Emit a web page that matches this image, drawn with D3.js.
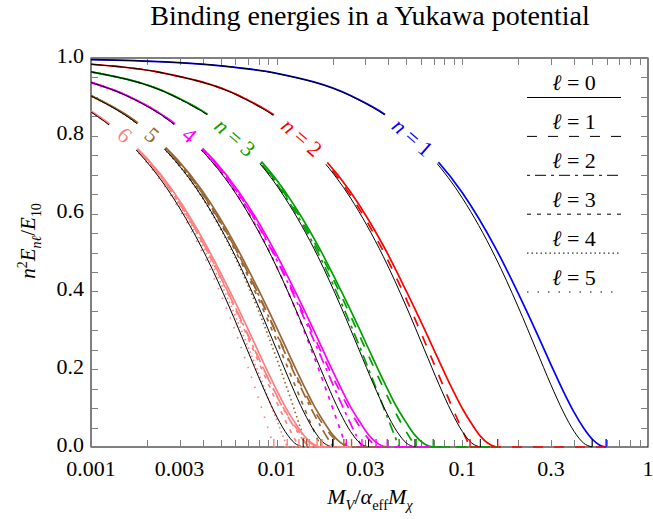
<!DOCTYPE html>
<html>
<head>
<meta charset="utf-8">
<script src="https://cdn.jsdelivr.net/npm/d3@7"></script>
<style>
  body { margin: 0; background: #fff; }
  svg { display: block; }
  svg text { font-family: 'Liberation Serif', 'DejaVu Serif', serif; }
</style>
</head>
<body>
<script>
// Binding energies n^2 E_{nl}/E_{10} against M_V/(alpha_eff M_chi)

// principal quantum numbers and the colour of each family
const principal = [1, 2, 3, 4, 5, 6];
const familyColors = ["#0000ff", "#ff0000", "#00a000", "#ff00ff", "#996633", "#ff8080"];

// sampling points along M_V/(alpha_eff M_chi), one list per n
const gridN1 = [0.001, 0.0025, 0.005, 0.01, 0.025, 0.05, 0.1, 0.15, 0.2, 0.25, 0.3, 0.35, 0.4, 0.45, 0.5, 0.55];
const gridN2 = [0.001, 0.0025, 0.00625, 0.0125, 0.025, 0.0375, 0.05, 0.0625, 0.075, 0.0875, 0.1, 0.1125, 0.125, 0.1375, 0.15];
const gridN3 = [0.001, 0.002778, 0.005556, 0.01111, 0.01667, 0.02222, 0.02778, 0.03333, 0.03889, 0.04444, 0.05, 0.05556, 0.06111, 0.06667];
const gridN4 = [0.001, 0.0015625, 0.003125, 0.00625, 0.009375, 0.0125, 0.015625, 0.01875, 0.021875, 0.025, 0.028125, 0.03125, 0.034375, 0.0375];
const gridN5 = [0.001, 0.002, 0.004, 0.006, 0.008, 0.01, 0.012, 0.014, 0.016, 0.018, 0.02, 0.022, 0.024];
const gridN6 = [0.001, 0.001389, 0.002778, 0.004167, 0.005556, 0.006944, 0.008333, 0.009722, 0.01111, 0.0125, 0.01389, 0.01528, 0.01667];

// Yukawa levels, one list per l (l = 0 .. n-1), sampled on the grid of that n
const levelsN1 = [
  [0.996, 0.990, 0.980, 0.9606, 0.9036, 0.8141, 0.6536, 0.514, 0.395, 0.296, 0.212, 0.143, 0.089, 0.049, 0.0206, 0.0045]
];
const levelsN2 = [
  [0.984, 0.9606, 0.9036, 0.8146, 0.6557, 0.518, 0.400, 0.303, 0.221, 0.153, 0.099, 0.059, 0.028, 0.0095, 0.0012],
  [0.984, 0.9605, 0.9031, 0.812, 0.647, 0.5033, 0.379, 0.2725, 0.1822, 0.1061, 0.0428]
];
const levelsN3 = [
  [0.9645, 0.9036, 0.8148, 0.6562, 0.5185, 0.4017, 0.3055, 0.2235, 0.156, 0.1015, 0.062, 0.0305, 0.011, 0.0017],
  [0.9644, 0.9032, 0.8128, 0.6499, 0.5095, 0.3898, 0.289, 0.2052, 0.1367, 0.0816, 0.0381, 0.0043],
  [0.9644, 0.9029, 0.8116, 0.6454, 0.4994, 0.3721, 0.2617, 0.1664, 0.0844, 0.0141]
];
const levelsN4 = [
  [0.9375, 0.9036, 0.8149, 0.6565, 0.519, 0.4025, 0.3065, 0.2245, 0.1575, 0.1032, 0.0635, 0.0315, 0.0118, 0.0019],
  [0.9373, 0.9033, 0.8129, 0.6502, 0.5104, 0.3915, 0.2919, 0.2098, 0.1434, 0.0909, 0.0507, 0.0208],
  [0.9373, 0.9032, 0.8125, 0.6488, 0.5069, 0.3851, 0.2813, 0.1938, 0.1206, 0.0599, 0.0098],
  [0.9371, 0.9027, 0.8107, 0.6418, 0.4916, 0.3587, 0.2414, 0.1382, 0.0475]
];
const levelsN5 = [
  [0.9036, 0.8149, 0.6566, 0.519, 0.403, 0.307, 0.225, 0.158, 0.1037, 0.0638, 0.0318, 0.012, 0.002],
  [0.9032, 0.8128, 0.6502, 0.5103, 0.3915, 0.2921, 0.2104, 0.1446, 0.093, 0.054, 0.0258, 0.0067],
  [0.9032, 0.8128, 0.6501, 0.5098, 0.3903, 0.2896, 0.2058, 0.1371, 0.0817, 0.0376, 0.003],
  [0.9031, 0.8121, 0.6474, 0.5038, 0.3794, 0.2725, 0.1812, 0.1034, 0.0375],
  [0.9025, 0.81, 0.6391, 0.486, 0.3491, 0.2272, 0.1187, 0.0224]
];
const levelsN6 = [
  [0.864, 0.8149, 0.6566, 0.519, 0.403, 0.307, 0.225, 0.158, 0.104, 0.064, 0.032, 0.012, 0.002],
  [0.8627, 0.8128, 0.65, 0.51, 0.391, 0.2915, 0.2098, 0.1442, 0.093, 0.0545, 0.0272, 0.0093],
  [0.8627, 0.8129, 0.6503, 0.5106, 0.3918, 0.2921, 0.2099, 0.1432, 0.0903, 0.0493, 0.0185],
  [0.8626, 0.8127, 0.6494, 0.5084, 0.3876, 0.2851, 0.1991, 0.1276, 0.0688, 0.0207],
  [0.8621, 0.8117, 0.6456, 0.5, 0.3728, 0.2625, 0.167, 0.0847, 0.0137],
  [0.8608, 0.8092, 0.6361, 0.4796, 0.3383, 0.2113, 0.0973]
];

// where each level stops being bound (E = 0)
const unboundN = [
  [0.595],
  [0.155, 0.110],
  [0.0697, 0.0564, 0.0457],
  [0.0394, 0.0343, 0.0288, 0.0237],
  [0.0253, 0.0230, 0.0202, 0.0173, 0.0145],
  [0.01756, 0.0165, 0.0150, 0.01319, 0.0114, 0.00965]
];

// Hulthen approximation, one list per n, on the same grids
const hulthenN = [
  [0.996, 0.990, 0.9801, 0.9604, 0.9025, 0.81, 0.64, 0.49, 0.36, 0.25, 0.16, 0.09, 0.04, 0.01],
  [0.984, 0.9604, 0.9025, 0.81, 0.64, 0.49, 0.36, 0.25, 0.16, 0.09, 0.04, 0.01],
  [0.9643, 0.9025, 0.81, 0.64, 0.49, 0.36, 0.25, 0.16, 0.09, 0.04, 0.01],
  [0.937, 0.9025, 0.81, 0.64, 0.49, 0.36, 0.25, 0.16, 0.09, 0.04, 0.01],
  [0.9025, 0.81, 0.64, 0.49, 0.36, 0.25, 0.16, 0.09, 0.04, 0.01],
  [0.8612, 0.81, 0.64, 0.49, 0.36, 0.25, 0.16, 0.09, 0.04, 0.01]
];
const hulthenUnbound = [0.5, 0.125, 0.05556, 0.03125, 0.02, 0.01389];

// in-plot family labels and where they sit on their curves
const familyLabels = ["n = 1", "n = 2", "n = 3", "4", "5", "6"];
const labelAtX = [0.0542, 0.0137, 0.0060, 0.0034, 0.00213, 0.00152];
const labelAtE = [0.797, 0.797, 0.797, 0.802, 0.802, 0.802];

// axis tick labels
const xTickLabels = [0.001, 0.003, 0.01, 0.03, 0.1, 0.3, 1];
const yTickLabels = [0, 0.2, 0.4, 0.6, 0.8, 1.0];
const legendLabels = ["0", "1", "2", "3", "4", "5"];

const grids = [gridN1, gridN2, gridN3, gridN4, gridN5, gridN6];
const levels = [levelsN1, levelsN2, levelsN3, levelsN4, levelsN5, levelsN6];

// ---- layout and styles ----
const W = 653, H = 519;
const plot = { left: 91, right: 648, top: 58, bottom: 447 };
const dashFor = ["none", "10,11", "3,5,11,5", "4,6", "1.5,3", "1.5,9"];
const serif = "Liberation Serif, DejaVu Serif, serif";

const svg = d3.select("body").append("svg")
  .attr("width", W).attr("height", H)
  .attr("font-family", serif);

const x = d3.scaleLog().domain([0.001, 1]).range([plot.left, plot.right]);
const y = d3.scaleLinear().domain([0, 1]).range([plot.bottom, plot.top]);

function txt(parent) {
  return parent.append("text").attr("font-family", serif).style("font-family", serif);
}

// rich text helper: italic, subscripts and superscripts
function rich(sel, parts, size) {
  let shift = 0;
  parts.forEach(p => {
    const target = p.sub ? size * 0.28 : (p.sup ? -size * 0.4 : 0);
    const ts = sel.append("tspan").attr("dy", target - shift).text(p.t);
    shift = target;
    if (p.i) ts.attr("font-style", "italic");
    if (p.sub || p.sup) ts.attr("font-size", size * 0.66);
  });
}

// title
txt(svg)
  .attr("x", 370).attr("y", 25)
  .attr("text-anchor", "middle")
  .attr("font-size", 28)
  .text("Binding energies in a Yukawa potential");

// frame
svg.append("rect")
  .attr("x", plot.left).attr("y", plot.top)
  .attr("width", plot.right - plot.left).attr("height", plot.bottom - plot.top)
  .attr("fill", "none").attr("stroke", "#000").attr("stroke-width", 1);

// ticks on all four sides, pointing inwards
const tickLen = 7;
const ticks = svg.append("g").attr("stroke", "#808080").attr("stroke-width", 1);
x.ticks().forEach(v => {
  const px = Math.round(x(v)) + 0.5;
  ticks.append("line").attr("x1", px).attr("x2", px).attr("y1", plot.bottom).attr("y2", plot.bottom - tickLen);
  ticks.append("line").attr("x1", px).attr("x2", px).attr("y1", plot.top).attr("y2", plot.top + tickLen);
});
y.ticks(20).forEach(v => {
  const py = Math.round(y(v)) + 0.5;
  ticks.append("line").attr("x1", plot.left).attr("x2", plot.left + tickLen).attr("y1", py).attr("y2", py);
  ticks.append("line").attr("x1", plot.right).attr("x2", plot.right - tickLen).attr("y1", py).attr("y2", py);
});

// tick labels
const fmtX = d => (d >= 1 ? "1" : String(d));
const xLab = svg.append("g");
xTickLabels.forEach(d => {
  txt(xLab).attr("x", x(d)).attr("y", 476)
    .attr("text-anchor", "middle").attr("font-size", 22)
    .text(fmtX(d));
});
const yLab = svg.append("g");
yTickLabels.forEach(d => {
  txt(yLab).attr("x", plot.left - 7).attr("y", y(d) + 4.5)
    .attr("text-anchor", "end").attr("font-size", 22)
    .text(d3.format(".1f")(d));
});

// axis titles
const xt = txt(svg).attr("x", 370).attr("y", 504)
  .attr("text-anchor", "middle").attr("font-size", 22);
rich(xt, [
  { t: "M", i: true }, { t: "V", i: true, sub: true }, { t: "/" },
  { t: "α", i: true }, { t: "eff", sub: true },
  { t: "M", i: true }, { t: "χ", i: true, sub: true }
], 22);

const yt = txt(svg)
  .attr("transform", "translate(35,241) rotate(-90)")
  .attr("text-anchor", "middle").attr("font-size", 21);
rich(yt, [
  { t: "n", i: true }, { t: "2", sup: true }, { t: "E", i: true },
  { t: "nℓ", i: true, sub: true }, { t: "/" }, { t: "E", i: true }, { t: "10", sub: true }
], 21);

// family labels placed on the curves, rotated along them
const labelAngle = 41;
const labelG = svg.append("g");
const labelBoxes = [];
familyLabels.forEach((lab, k) => {
  const cx = x(labelAtX[k]), cy = y(labelAtE[k]);
  const t = txt(labelG)
    .attr("transform", `translate(${cx},${cy}) rotate(${labelAngle})`)
    .attr("text-anchor", "middle")
    .attr("dominant-baseline", "central")
    .attr("font-size", 22)
    .attr("fill", familyColors[k]);
  if (lab.startsWith("n")) {
    t.append("tspan").attr("font-style", "italic").text("n");
    t.append("tspan").text(lab.slice(1));
  } else {
    t.text(lab);
  }
  labelBoxes.push({ cx, cy, w: t.node().getComputedTextLength() });
});

// gaps in the curves behind each label
const defs = svg.append("defs");
const mask = defs.append("mask").attr("id", "labelGaps")
  .attr("maskUnits", "userSpaceOnUse")
  .attr("x", 0).attr("y", 0).attr("width", W).attr("height", H);
mask.append("rect").attr("x", 0).attr("y", 0).attr("width", W).attr("height", H).attr("fill", "#fff");
labelBoxes.forEach(b => {
  const w = b.w + 26, h = 20;
  mask.append("rect")
    .attr("transform", `translate(${b.cx},${b.cy}) rotate(${labelAngle})`)
    .attr("x", -w / 2).attr("y", -h / 2).attr("width", w).attr("height", h)
    .attr("fill", "#000");
});

const line = d3.line()
  .x(d => x(d[0])).y(d => y(d[1]))
  .curve(d3.curveMonotoneX);

const curves = svg.append("g").attr("mask", "url(#labelGaps)").attr("fill", "none");
const baseline = svg.append("g").attr("fill", "none");

// Yukawa levels, coloured by n, dashed by l
principal.forEach((n, k) => {
  levels[k].forEach((vals, l) => {
    const pts = vals.map((v, i) => [grids[k][i], v]);
    const x0 = unboundN[k][l];
    pts.push([x0, 0]);
    curves.append("path")
      .attr("d", line(pts))
      .attr("stroke", familyColors[k])
      .attr("stroke-width", 1.7)
      .attr("stroke-dasharray", dashFor[l]);
    // unbound: the level stays at zero up to the next family's threshold
    if (l > 0) {
      baseline.append("path")
        .attr("d", line([[x0, 0], [unboundN[k - 1][0], 0]]))
        .attr("stroke", familyColors[k])
        .attr("stroke-width", 1.6)
        .attr("stroke-dasharray", dashFor[l]);
    }
    baseline.append("line")
      .attr("x1", x(x0)).attr("x2", x(x0))
      .attr("y1", y(0)).attr("y2", y(0) - 8)
      .attr("stroke", familyColors[k]).attr("stroke-width", 1.4);
  });
});

// Hulthen approximation in black
principal.forEach((n, k) => {
  const pts = hulthenN[k].map((v, i) => [grids[k][i], v]);
  pts.push([hulthenUnbound[k], 0]);
  curves.append("path")
    .attr("d", line(pts))
    .attr("stroke", "#000")
    .attr("stroke-width", 1);
  baseline.append("line")
    .attr("x1", x(hulthenUnbound[k])).attr("x2", x(hulthenUnbound[k]))
    .attr("y1", y(0)).attr("y2", y(0) - 8)
    .attr("stroke", "#000").attr("stroke-width", 1);
});

labelG.raise();

// legend of line styles for l
const legend = svg.append("g");
legendLabels.forEach((lab, i) => {
  const base = 90 + i * 38.9;
  const t = txt(legend)
    .attr("x", 574).attr("y", base)
    .attr("text-anchor", "middle").attr("font-size", 22);
  t.append("tspan").attr("font-style", "italic").text("ℓ");
  t.append("tspan").text(" = " + lab);
  legend.append("line")
    .attr("x1", 527).attr("x2", 621)
    .attr("y1", base + 7.5).attr("y2", base + 7.5)
    .attr("stroke", "#000").attr("stroke-width", 1)
    .attr("stroke-dasharray", dashFor[i]);
});
</script>
</body>
</html>
